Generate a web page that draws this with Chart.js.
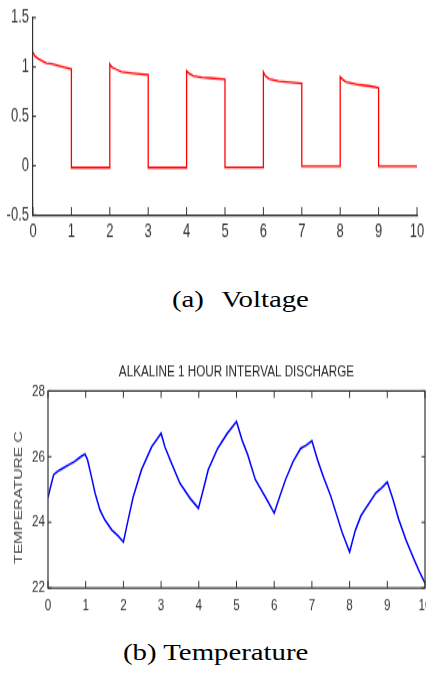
<!DOCTYPE html>
<html>
<head>
<meta charset="utf-8">
<script src="https://cdn.jsdelivr.net/npm/chart.js@4.4.1/dist/chart.umd.min.js"></script>
<style>
  html, body { margin: 0; padding: 0; background: #ffffff; }
  body { width: 426px; height: 677px; position: relative; overflow: hidden; }
  canvas { position: absolute; left: 0; }
  #c1 { top: 0; width: 426px; height: 249px; }
  #c2 { top: 340px; width: 426px; height: 280px; }
  .cap { position: absolute; font-family: "Liberation Serif", "Times New Roman", serif; font-size: 24px; line-height: 24px; color: #000; white-space: pre; transform: scaleX(1.2); transform-origin: 0 0; }
</style>
</head>
<body>
<canvas id="c1" width="426" height="166" style="width:426px;height:249px"></canvas>
<div class="cap" style="left:172px;top:287px;word-spacing:1.5px">(a)  Voltage</div>
<canvas id="c2" width="426" height="200" style="width:426px;height:280px"></canvas>
<div class="cap" style="left:123px;top:640px">(b) Temperature</div>
<script>
// ---------- data ----------
const hourTicks = [0, 1, 2, 3, 4, 5, 6, 7, 8, 9, 10];

const voltTime = [0, 0.05, 0.15, 0.35, 0.5, 0.7, 0.9, 1.0, 1.0, 1.0, 1.5, 2.0,
                  2.0, 2.05, 2.15, 2.3, 2.6, 3.0, 3.0, 3.5, 4.0,
                  4.0, 4.05, 4.17, 4.4, 4.7, 5.0, 5.0, 5.5, 6.0,
                  6.0, 6.05, 6.15, 6.4, 6.7, 7.0, 7.0, 7.5, 8.0,
                  8.0, 8.05, 8.15, 8.5, 8.8, 9.0, 9.0, 9.5, 10.0];
const voltValue = [1.15, 1.11, 1.08, 1.04, 1.03, 1.01, 0.99, 0.98, 0.5, -0.02, -0.02, -0.02,
                   1.03, 1.0, 0.98, 0.95, 0.935, 0.92, -0.02, -0.02, -0.02,
                   0.96, 0.94, 0.91, 0.895, 0.885, 0.875, -0.017, -0.017, -0.017,
                   0.95, 0.91, 0.88, 0.855, 0.845, 0.835, -0.007, -0.007, -0.007,
                   0.90, 0.88, 0.85, 0.82, 0.805, 0.79, -0.007, -0.007, -0.007];
const voltYTicks = [-0.5, 0, 0.5, 1, 1.5];

const tempTime = [0, 0.05, 0.15, 0.25, 0.4, 0.55, 0.7, 0.85, 0.98, 1.05, 1.15, 1.25, 1.38, 1.51, 1.69, 1.85, 2.0,
                  2.13, 2.26, 2.48, 2.75, 2.9, 3.0, 3.1, 3.24, 3.5, 3.77, 3.99,
                  4.12, 4.25, 4.5, 4.75, 5.0, 5.15, 5.3, 5.5, 5.8, 6.0,
                  6.15, 6.3, 6.5, 6.7, 6.85, 7.0, 7.15, 7.3, 7.5, 7.8, 8.0,
                  8.15, 8.3, 8.5, 8.7, 8.85, 9.0, 9.15, 9.3, 9.5, 9.7, 9.85, 10.0];
const tempValue = [24.75, 25.0, 25.45, 25.55, 25.65, 25.75, 25.85, 25.98, 26.08, 25.9, 25.4, 24.88, 24.37, 24.07, 23.77, 23.6, 23.4,
                   24.1, 24.78, 25.6, 26.3, 26.55, 26.71, 26.3, 25.9, 25.19, 24.73, 24.43,
                   25.0, 25.6, 26.25, 26.7, 27.07, 26.5, 26.05, 25.3, 24.7, 24.28,
                   24.8, 25.3, 25.85, 26.25, 26.35, 26.48, 25.9, 25.4, 24.8, 23.7, 23.1,
                   23.75, 24.2, 24.55, 24.9, 25.05, 25.23, 24.7, 24.1, 23.45, 22.9, 22.5, 22.15];
const tempYTicks = [22, 24, 26, 28];

const tempTitle = 'ALKALINE 1 HOUR INTERVAL DISCHARGE';
const tempYLabel = 'TEMPERATURE C';

// ---------- helpers ----------
const pts = (xs, ys) => xs.map((x, i) => ({ x: x, y: ys[i] }));
const setTicks = (arr) => (scale) => { scale.ticks = arr.map(v => ({ value: v })); };
const plainLabel = (v) => String(v);
const SANS = '"Liberation Sans", Arial, Helvetica, sans-serif';
const fitX = (h) => (s) => { s.height = h; s.paddingLeft = 0; s.paddingRight = 0; };

const inwardTicks = {
  id: 'inwardTicks',
  afterDatasetsDraw(chart, args, o) {
    const { ctx, chartArea: a, scales: { x, y } } = chart;
    ctx.save();
    ctx.strokeStyle = o.color;
    ctx.lineWidth = o.width;
    ctx.beginPath();
    x.ticks.forEach(t => {
      const px = x.getPixelForValue(t.value);
      ctx.moveTo(px, a.bottom); ctx.lineTo(px, a.bottom - o.xLen);
      if (o.box) { ctx.moveTo(px, a.top); ctx.lineTo(px, a.top + o.xLen); }
    });
    y.ticks.forEach(t => {
      const py = y.getPixelForValue(t.value);
      ctx.moveTo(a.left, py); ctx.lineTo(a.left + o.yLen, py);
      if (o.box) { ctx.moveTo(a.right, py); ctx.lineTo(a.right - o.yLen, py); }
    });
    ctx.stroke();
    if (o.box) {
      ctx.lineWidth = o.boxWidth;
      ctx.strokeRect(a.left, a.top, a.right - a.left, a.bottom - a.top);
    }
    ctx.restore();
  }
};

const yLabelPlugin = {
  id: 'yLabelPlugin',
  afterDraw(chart, args, o) {
    if (!o.text) return;
    const ctx = chart.ctx;
    ctx.save();
    ctx.translate(o.x, o.y);
    ctx.rotate(-Math.PI / 2);
    ctx.font = o.size + 'px ' + SANS;
    ctx.fillStyle = o.color;
    ctx.textAlign = 'center';
    ctx.textBaseline = 'middle';
    ctx.fillText(o.text, 0, 0);
    ctx.restore();
  }
};

// ---------- chart (a): voltage ----------
new Chart(document.getElementById('c1'), {
  type: 'line',
  data: {
    datasets: [{
      data: pts(voltTime, voltValue),
      borderColor: '#ff0000',
      borderWidth: 1.3,
      pointRadius: 0,
      tension: 0,
      fill: false
    }]
  },
  options: {
    responsive: false,
    animation: false,
    devicePixelRatio: 1,
    layout: { padding: { top: 10, right: 9, left: 0, bottom: 0 } },
    plugins: {
      legend: { display: false },
      tooltip: { enabled: false },
      inwardTicks: { color: '#333333', width: 1, xLen: 5.3, yLen: 3, box: false },
      yLabelPlugin: { text: '' }
    },
    scales: {
      x: {
        type: 'linear', min: 0, max: 10,
        afterBuildTicks: setTicks(hourTicks),
        afterFit: fitX(22.67),
        grid: { display: false, drawTicks: false },
        border: { display: true, color: '#333333', width: 1.2 },
        ticks: { color: '#333333', padding: 3, maxRotation: 0, autoSkip: false, callback: plainLabel, font: { family: SANS, size: 13 } }
      },
      y: {
        type: 'linear', min: -0.5, max: 1.5,
        afterBuildTicks: setTicks(voltYTicks),
        afterFit: (s) => { s.width = 33; },
        grid: { display: false, drawTicks: false },
        border: { display: true, color: '#333333', width: 1.2 },
        ticks: { color: '#333333', padding: 4, autoSkip: false, callback: plainLabel, font: { family: SANS, size: 13 } }
      }
    }
  },
  plugins: [inwardTicks]
});

// ---------- chart (b): temperature ----------
new Chart(document.getElementById('c2'), {
  type: 'line',
  data: {
    datasets: [{
      data: pts(tempTime, tempValue),
      borderColor: '#0000ff',
      borderWidth: 1.5,
      pointRadius: 0,
      tension: 0,
      fill: false
    }]
  },
  options: {
    responsive: false,
    animation: false,
    devicePixelRatio: 1,
    layout: { padding: { top: 0, right: 1, left: 0, bottom: 0 } },
    plugins: {
      legend: { display: false },
      tooltip: { enabled: false },
      title: {
        display: true,
        text: tempTitle,
        fullSize: false,
        color: '#2a2a2a',
        font: { family: SANS, size: 11.7, weight: 'normal', lineHeight: 1 },
        padding: { top: 16.5, bottom: 8.2 }
      },
      inwardTicks: { color: '#333333', width: 1, xLen: 5, yLen: 3.5, box: true, boxWidth: 1.2 },
      yLabelPlugin: { text: tempYLabel, x: 19, y: 112.5, size: 11.2, color: '#444444' }
    },
    scales: {
      x: {
        type: 'linear', min: 0, max: 10,
        afterBuildTicks: setTicks(hourTicks),
        afterFit: fitX(22.86),
        grid: { display: false, drawTicks: false },
        border: { display: false },
        ticks: { color: '#333333', padding: 6, maxRotation: 0, autoSkip: false, callback: plainLabel, font: { family: SANS, size: 11.7 } }
      },
      y: {
        type: 'linear', min: 22, max: 28,
        afterBuildTicks: setTicks(tempYTicks),
        afterFit: (s) => { s.width = 48; },
        grid: { display: false, drawTicks: false },
        border: { display: false },
        ticks: { color: '#333333', padding: 3, autoSkip: false, callback: plainLabel, font: { family: SANS, size: 11.7 } }
      }
    }
  },
  plugins: [inwardTicks, yLabelPlugin]
});
</script>
</body>
</html>
